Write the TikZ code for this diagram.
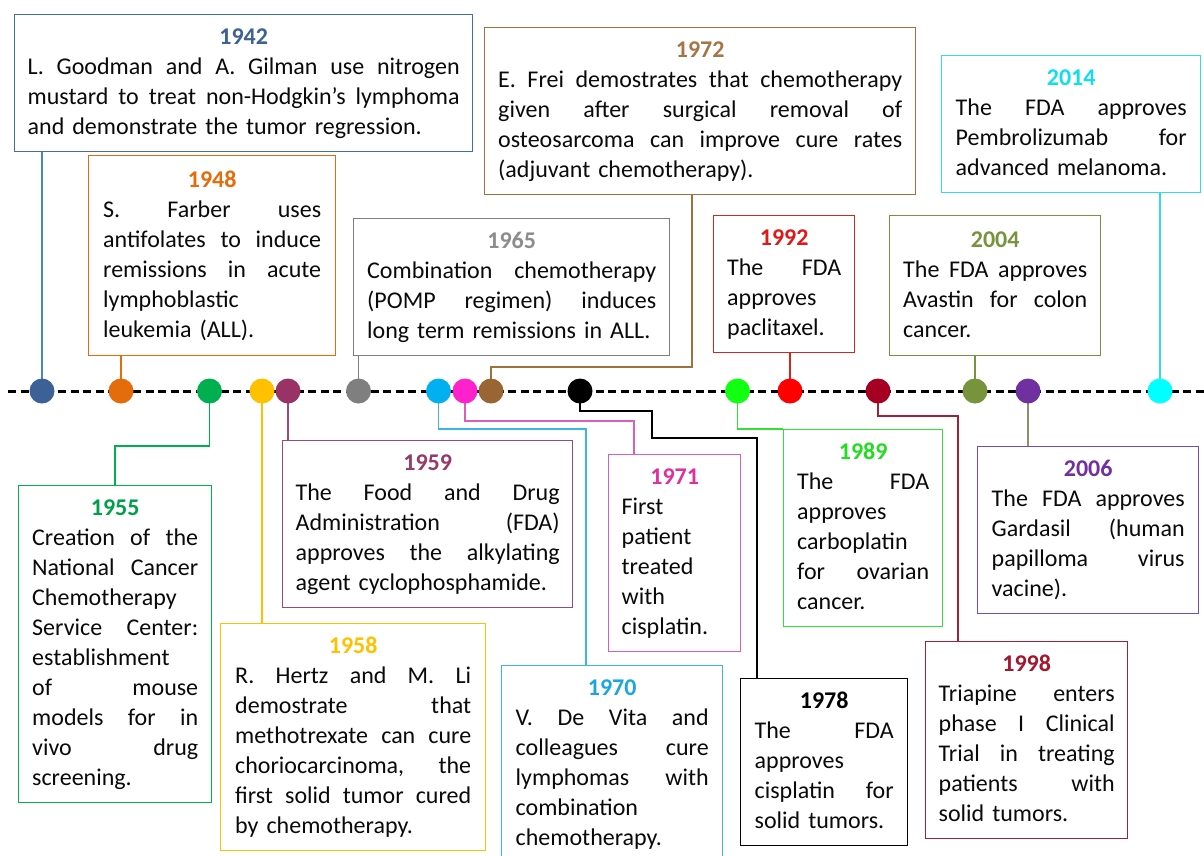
\documentclass[tikz,border=0pt]{standalone}
\usepackage{fontspec}
\setmainfont{Carlito}
\frenchspacing
\newcommand\jl[1]{\par\noindent\hbox to\linewidth{\strut\spaceskip=\fontdimen2\font plus 1fill minus \fontdimen4\font\relax #1}\par}
\newcommand\rl[1]{\par\noindent\hbox{\strut #1}\par}
\newcommand\yr[2]{\par\noindent\hbox to\linewidth{\hss\strut\bfseries\color{#1}#2\hss}\par}
\definecolor{l1942}{HTML}{41719C}\definecolor{d1942}{HTML}{3C6196}\definecolor{c1942}{HTML}{4A86C0}
\definecolor{l1948}{HTML}{E46C0A}
\definecolor{l1955}{HTML}{00B050}\definecolor{t1955}{HTML}{00A04A}
\definecolor{l1958}{HTML}{FFC000}
\definecolor{l1959}{HTML}{9A4A7A}\definecolor{d1959}{HTML}{993366}\definecolor{t1959}{HTML}{953A6A}
\definecolor{l1965}{HTML}{7F7F7F}\definecolor{t1965}{HTML}{8C8C8C}
\definecolor{l1970}{HTML}{3CB4E5}\definecolor{d1970}{HTML}{00B0F0}\definecolor{t1970}{HTML}{1CA6E0}
\definecolor{l1971}{HTML}{D65FBF}\definecolor{d1971}{HTML}{FF22CC}\definecolor{t1971}{HTML}{E0309E}
\definecolor{l1972}{HTML}{A0703F}\definecolor{d1972}{HTML}{996633}\definecolor{t1972}{HTML}{A57544}
\definecolor{l1989}{HTML}{33E033}\definecolor{d1989}{HTML}{11FF11}\definecolor{t1989}{HTML}{22DD22}
\definecolor{l1992}{HTML}{D42424}\definecolor{d1992}{HTML}{FF0000}\definecolor{t1992}{HTML}{E01818}
\definecolor{l1998}{HTML}{A0213A}\definecolor{d1998}{HTML}{A50021}\definecolor{t1998}{HTML}{A5172E}
\definecolor{l2004}{HTML}{77933C}
\definecolor{l2006}{HTML}{7E4AAE}\definecolor{d2006}{HTML}{7030A0}\definecolor{c2006}{HTML}{8C9070}
\definecolor{l2014}{HTML}{33DDE8}\definecolor{d2014}{HTML}{00FFFF}\definecolor{t2014}{HTML}{10DDEE}
\definecolor{txt}{HTML}{0A0A0A}
\tikzset{
  evbox/.style={draw=#1, line width=1.4pt, anchor=north west, inner xsep=13pt, inner ysep=0pt,
    align=left, text=txt, font=\fontsize{24}{30}\selectfont, execute at end node={\par\kern8pt}},
  dot/.style={circle, fill=#1, minimum size=25pt, inner sep=0pt},
  conn/.style={draw=#1, line width=1.3pt},
  timeline/.style={line width=3pt, dash pattern=on 8pt off 4.5pt, black}
}
\begin{document}
\begin{tikzpicture}[x=1pt,y=-1pt]
\useasboundingbox[fill=white] (0,0) rectangle (1204,855);
% timeline
\coordinate (tl0) at (8,391);
\coordinate (tl1) at (1204,391);
\draw[timeline] (tl0) -- (tl1);
% boxes
\node[evbox=l1942, minimum width=456pt, minimum height=136pt, text width=432pt] (b1942) at (14,14)
 {\yr{d1942}{1942}\jl{L. Goodman and A. Gilman use nitrogen}\jl{mustard to treat non-Hodgkin’s lymphoma}\rl{and demonstrate the tumor regression.}};
\node[evbox=l1948, minimum width=247pt, minimum height=200pt, text width=218pt] (b1948) at (88,155)
 {\yr{l1948}{1948}\jl{S. Farber uses}\jl{antifolates to induce}\jl{remissions in acute}\rl{lymphoblastic}\rl{leukemia (ALL).}};
\node[evbox=l1965, minimum width=316pt, minimum height=136pt, text width=289pt] (b1965) at (353,218)
 {\yr{t1965}{1965}\jl{Combination chemotherapy}\jl{(POMP regimen) induces}\rl{long term remissions in ALL.}};
\node[evbox=l1972, minimum width=431pt, minimum height=163pt, text width=404pt] (b1972) at (484,27)
 {\yr{t1972}{1972}\jl{E. Frei demostrates that chemotherapy}\jl{given after surgical removal of}\jl{osteosarcoma can improve cure rates}\rl{(adjuvant chemotherapy).}};
\node[evbox=l1992, minimum width=141pt, minimum height=134pt, text width=114pt] (b1992) at (713,215)
 {\yr{t1992}{1992}\jl{The FDA}\rl{approves}\rl{paclitaxel.}};
\node[evbox=l2004, minimum width=211pt, minimum height=140pt, text width=184pt] (b2004) at (889,215)
 {\yr{l2004}{2004}\jl{The FDA approves}\jl{Avastin for colon}\rl{cancer.}};
\node[evbox=l2014, minimum width=259pt, minimum height=128pt, text width=231pt] (b2014) at (941,55)
 {\yr{t2014}{2014}\jl{The FDA approves}\jl{Pembrolizumab for}\rl{advanced melanoma.}};
\node[evbox=l1955, minimum width=193pt, minimum height=317pt, text width=166pt] (b1955) at (18,485)
 {\yr{t1955}{1955}\jl{Creation of the}\jl{National Cancer}\rl{Chemotherapy}\jl{Service Center:}\rl{establishment}\jl{of mouse}\jl{models for in}\jl{vivo drug}\rl{screening.}};
\node[evbox=l1958, minimum width=265pt, minimum height=222pt, text width=236pt] (b1958) at (220,623)
 {\yr{l1958}{1958}\jl{R. Hertz and M. Li}\jl{demostrate that}\jl{methotrexate can cure}\jl{choriocarcinoma, the}\jl{first solid tumor cured}\rl{by chemotherapy.}};
\node[evbox=l1959, minimum width=290pt, minimum height=165pt, text width=264pt] (b1959) at (282,440)
 {\yr{t1959}{1959}\jl{The Food and Drug}\jl{Administration (FDA)}\jl{approves the alkylating}\rl{agent cyclophosphamide.}};
\node[evbox=l1970, minimum width=221pt, minimum height=196pt, text width=193pt] (b1970) at (501,665)
 {\yr{t1970}{1970}\jl{V. De Vita and}\jl{colleagues cure}\jl{lymphomas with}\rl{combination}\rl{chemotherapy.}};
\node[evbox=l1971, minimum width=132pt, minimum height=195pt, text width=106pt] (b1971) at (608,454)
 {\yr{t1971}{1971}\rl{First}\rl{patient}\rl{treated}\rl{with}\rl{cisplatin.}};
\node[evbox=black, minimum width=167pt, minimum height=166pt, text width=139pt] (b1978) at (740,678)
 {\yr{black}{1978}\jl{The FDA}\rl{approves}\jl{cisplatin for}\rl{solid tumors.}};
\node[evbox=l1989, minimum width=159pt, minimum height=196pt, text width=132pt] (b1989) at (783,429)
 {\yr{t1989}{1989}\jl{The FDA}\rl{approves}\rl{carboplatin}\jl{for ovarian}\rl{cancer.}};
\node[evbox=l1998, minimum width=202pt, minimum height=195pt, text width=176pt] (b1998) at (925,641)
 {\yr{t1998}{1998}\jl{Triapine enters}\jl{phase I Clinical}\jl{Trial in treating}\jl{patients with}\rl{solid tumors.}};
\node[evbox=l2006, minimum width=221pt, minimum height=165pt, text width=193pt] (b2006) at (977,446)
 {\yr{d2006}{2006}\jl{The FDA approves}\jl{Gardasil (human}\jl{papilloma virus}\rl{vacine).}};
% dots (positions)
\coordinate (p1942) at (42,391);
\coordinate (p1948) at (121,391);
\coordinate (p1955) at (209.5,391);
\coordinate (p1958) at (262,391);
\coordinate (p1959) at (288,391);
\coordinate (p1965) at (358.5,391);
\coordinate (p1970) at (438.5,391);
\coordinate (p1971) at (465,391);
\coordinate (p1972) at (491,391);
\coordinate (p1978) at (580,391);
\coordinate (p1989) at (737.5,391);
\coordinate (p1992) at (790,391);
\coordinate (p1998) at (878,391);
\coordinate (p2004) at (975,391);
\coordinate (p2006) at (1028,391);
\coordinate (p2014) at (1160,391);
% bends
\coordinate (k1972) at (692,367);
\coordinate (k1955) at (115,446);
\coordinate (k1970) at (586,429);
\coordinate (k1971) at (634,421);
\coordinate (k1978a) at (652,411);
\coordinate (k1978b) at (757,438);
\coordinate (k1998) at (958,416);
% connectors
\draw[conn=c1942] (p1942) -- (p1942 |- b1942.south);
\draw[conn=l1948] (p1948) -- (p1948 |- b1948.south);
\draw[conn=l1965] (p1965) -- (p1965 |- b1965.south);
\draw[conn=l1972] (p1972) |- (k1972) -- (k1972 |- b1972.south);
\draw[conn=l1992] (p1992) -- (p1992 |- b1992.south);
\draw[conn=l2004] (p2004) -- (p2004 |- b2004.south);
\draw[conn=l2014] (p2014) -- (p2014 |- b2014.south);
\draw[conn=l1955] (p1955) |- (k1955) -- (k1955 |- b1955.north);
\draw[conn=l1958] (p1958) -- (p1958 |- b1958.north);
\draw[conn=l1959] (p1959) -- (p1959 |- b1959.north);
\draw[conn=l1970] (p1970) |- (k1970) -- (k1970 |- b1970.north);
\draw[conn=l1971] (p1971) |- (k1971) -- (k1971 |- b1971.north);
\draw[conn=black] (p1978) |- (k1978a) |- (k1978b) -- (k1978b |- b1978.north);
\draw[conn=l1989] (p1989) |- (b1989.north west);
\draw[conn=l1998] (p1998) |- (k1998) -- (k1998 |- b1998.north);
\draw[conn=c2006] (p2006) -- (p2006 |- b2006.north);
% dots
\node[dot=d1942] (d1942) at (p1942) {};
\node[dot=l1948] (d1948) at (p1948) {};
\node[dot=l1955] (d1955) at (p1955) {};
\node[dot=l1958] (d1958) at (p1958) {};
\node[dot=d1959] (d1959) at (p1959) {};
\node[dot=l1965] (d1965) at (p1965) {};
\node[dot=d1970] (d1970) at (p1970) {};
\node[dot=d1971] (d1971) at (p1971) {};
\node[dot=d1972] (d1972) at (p1972) {};
\node[dot=black] (d1978) at (p1978) {};
\node[dot=d1989] (d1989) at (p1989) {};
\node[dot=d1992] (d1992) at (p1992) {};
\node[dot=d1998] (d1998) at (p1998) {};
\node[dot=l2004] (d2004) at (p2004) {};
\node[dot=d2006] (d2006) at (p2006) {};
\node[dot=d2014] (d2014) at (p2014) {};
\end{tikzpicture}
\end{document}
